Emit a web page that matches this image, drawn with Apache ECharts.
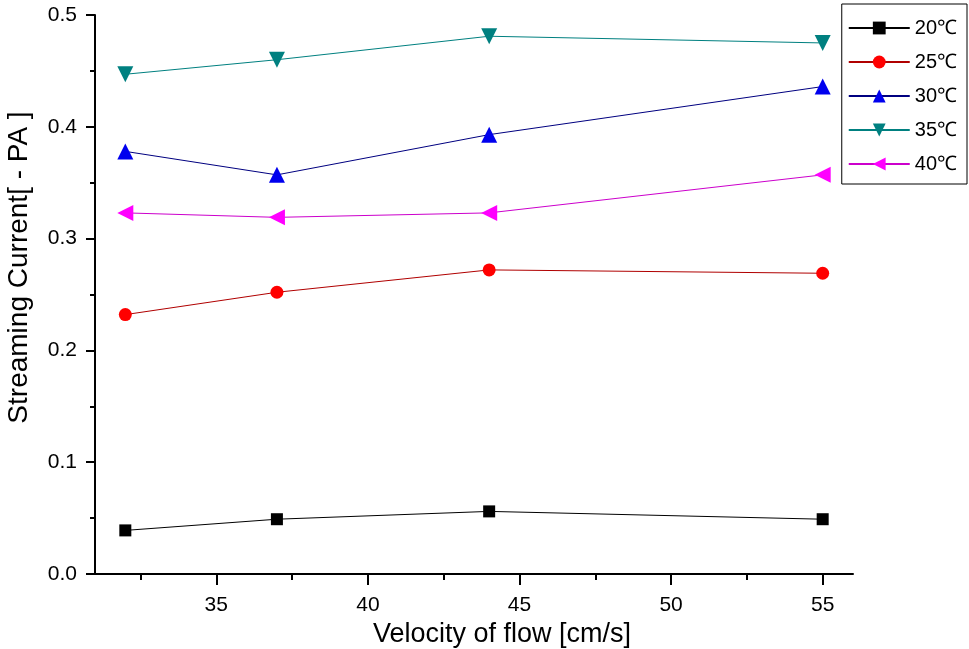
<!DOCTYPE html>
<html>
<head>
<meta charset="utf-8">
<script src="https://cdn.jsdelivr.net/npm/echarts@6/dist/echarts.min.js"></script>
<style>
html,body{margin:0;padding:0;background:#fff;}
#c{width:969px;height:649px;}
</style>
</head>
<body>
<div id="c"></div>
<script>
var velocity = [32, 37, 44, 55];
var s20 = [0.039, 0.049, 0.056, 0.049];
var s25 = [0.232, 0.252, 0.272, 0.269];
var s30 = [0.378, 0.357, 0.393, 0.436];
var s35 = [0.447, 0.460, 0.481, 0.475];
var s40 = [0.323, 0.319, 0.323, 0.357];
var seriesNames = ['20℃', '25℃', '30℃', '35℃', '40℃'];
var xTickLabels = [35, 40, 45, 50, 55];
var xMinorTicks = [32.5, 37.5, 42.5, 47.5, 52.5];

function pairs(ys){ return velocity.map(function(x,i){ return [x, ys[i]]; }); }

var font = 'Liberation Sans, Arial, sans-serif';
function mk(name, data, symbol, rot, mcol, lcol, size){
  return {
    name: name, type: 'line', data: pairs(data),
    symbol: symbol, symbolSize: size, symbolRotate: rot,
    itemStyle: {color: mcol},
    lineStyle: {color: lcol, width: 1},
    emphasis: {disabled: true},
    animation: false
  };
}

var chart = echarts.init(document.getElementById('c'));
chart.setOption({
  backgroundColor: '#fff',
  animation: false,
  grid: {left: 95, right: 116, top: 15, bottom: 75, containLabel: false, outerBoundsMode: 'none'},
  xAxis: [{
    type: 'value', min: 31, max: 56,
    name: 'Velocity of flow [cm/s]', nameLocation: 'middle', nameGap: 44,
    nameTextStyle: {fontFamily: font, fontSize: 27, color: '#000', padding: [0,0,0,56]},
    axisLine: {lineStyle: {color: '#000', width: 2}},
    axisTick: {show: true, length: 11, customValues: xTickLabels, lineStyle: {color: '#000', width: 2}},
    axisLabel: {fontFamily: font, fontSize: 21, color: '#000', margin: 21, customValues: xTickLabels},
    splitLine: {show: false}
  }, {
    type: 'value', min: 31, max: 56, position: 'bottom',
    axisLine: {show: false},
    axisTick: {show: true, length: 6, customValues: xMinorTicks, lineStyle: {color: '#000', width: 2}},
    axisLabel: {show: false},
    splitLine: {show: false}
  }],
  yAxis: {
    type: 'value', min: 0, max: 0.5, interval: 0.1,
    name: 'Streaming Current[ - PA ]', nameLocation: 'middle', nameGap: 62,
    nameTextStyle: {fontFamily: font, fontSize: 28, color: '#000', padding: [0,0,0,54]},
    axisLine: {show: true, lineStyle: {color: '#000', width: 2}},
    axisTick: {show: true, length: 9, lineStyle: {color: '#000', width: 2}},
    minorTick: {show: true, splitNumber: 2, length: 5, lineStyle: {color: '#000', width: 2}},
    axisLabel: {fontFamily: font, fontSize: 21, color: '#000', margin: 18,
      formatter: function(v){ return v.toFixed(1); }},
    splitLine: {show: false}
  },
  legend: {
    orient: 'vertical', right: 2, top: 4,
    backgroundColor: '#fff', borderColor: '#000', borderWidth: 1,
    padding: [14, 10, 10, 6],
    itemWidth: 61, itemHeight: 16, itemGap: 14,
    textStyle: {fontFamily: font, fontSize: 20, color: '#000', lineHeight: 20},
    data: seriesNames
  },
  series: [
    mk(seriesNames[0], s20, 'rect', 0, '#000000', '#000000', 12),
    mk(seriesNames[1], s25, 'circle', 0, '#ff0000', '#b00000', 13),
    mk(seriesNames[2], s30, 'triangle', 0, '#0000ee', '#000080', 16),
    mk(seriesNames[3], s35, 'triangle', 180, '#008080', '#008080', 16),
    mk(seriesNames[4], s40, 'triangle', 90, '#ff00ff', '#cc00cc', 16)
  ]
});
</script>
</body>
</html>
